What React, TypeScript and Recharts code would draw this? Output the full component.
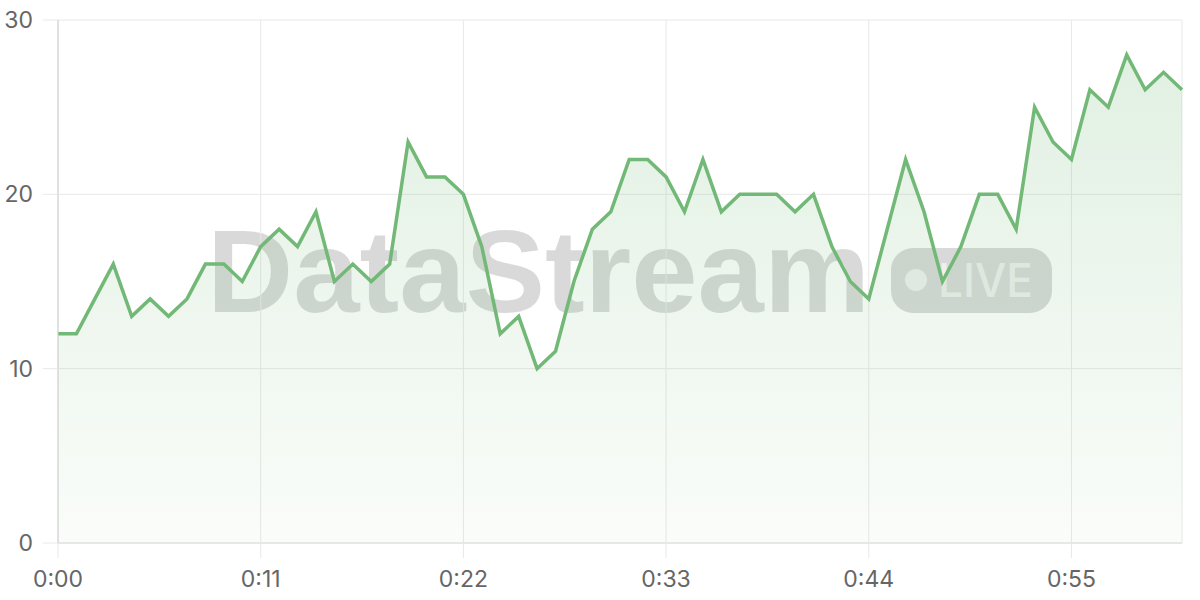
import React from 'react';
import { AreaChart, Area, XAxis, YAxis, CartesianGrid } from 'recharts';

// one reading per second
const seconds = Array.from({ length: 62 }, (_, i) => i);
const values = [
  12, 12, 14, 16, 13, 14, 13, 14, 16, 16,
  15, 17, 18, 17, 19, 15, 16, 15, 16, 23,
  21, 21, 20, 17, 12, 13, 10, 11, 15, 18,
  19, 22, 22, 21, 19, 22, 19, 20, 20, 20,
  19, 20, 17, 15, 14, 18, 22, 19, 15, 17,
  20, 20, 18, 25, 23, 22, 26, 25, 28, 26,
  27, 26,
];
const xTicks = [0, 11, 22, 33, 44, 55];
const yTicks = [0, 10, 20, 30];

const data = seconds.map((s, i) => ({ t: s, v: values[i] }));

const fmtTime = (s: number) => `${Math.floor(s / 60)}:${String(s % 60).padStart(2, '0')}`;

const GREEN = '#72b876';
const tickStyle = { fill: '#666', fontSize: 23, fontFamily: 'Inter, sans-serif' };

const Watermark = () => (
  <svg width={1200} height={600} style={{ position: 'absolute', left: 0, top: 0 }}>
    <text
      x={207}
      y={312}
      fontSize={117}
      fontWeight={700}
      fontFamily="'Liberation Sans', Arial, sans-serif"
      fill="#000"
      fillOpacity={0.15}
      textLength={663}
      lengthAdjust="spacingAndGlyphs"
    >
      DataStream
    </text>
    <rect x={891} y={248} width={161} height={65} rx={22} fill="#000" fillOpacity={0.15} />
    <circle cx={916} cy={280} r={11} fill="#fff" fillOpacity={0.6} />
    <text
      x={938}
      y={297}
      fontSize={46}
      fontWeight={500}
      fontFamily="Inter, sans-serif"
      fill="#fff"
      fillOpacity={0.6}
      textLength={95}
      lengthAdjust="spacingAndGlyphs"
    >
      LIVE
    </text>
  </svg>
);

export default function App() {
  return (
    <div style={{ position: 'absolute', left: 0, top: 0, width: 1200, height: 600, background: '#fff' }}>
      <Watermark />
      <div style={{ position: 'absolute', left: 0, top: 0 }}>
        <AreaChart width={1200} height={600} data={data} margin={{ top: 20, right: 18, bottom: 0, left: 0 }}>
          <defs>
            <linearGradient id="fillGrad" x1="0" y1="0" x2="0" y2="1">
              <stop offset="0%" stopColor={GREEN} stopOpacity={0.35} />
              <stop offset="100%" stopColor={GREEN} stopOpacity={0.06} />
            </linearGradient>
          </defs>
          <CartesianGrid stroke="#e8e8e8" />
          <XAxis
            dataKey="t"
            type="number"
            domain={[0, 61]}
            ticks={xTicks}
            tickFormatter={fmtTime}
            height={57}
            tickSize={15}
            tickMargin={13}
            axisLine={{ stroke: '#dcdcdc' }}
            tickLine={{ stroke: '#e8e8e8' }}
            tick={tickStyle}
          />
          <YAxis
            domain={[0, 30]}
            ticks={yTicks}
            width={58}
            tickSize={15}
            tickMargin={10}
            axisLine={{ stroke: '#cfcfcf' }}
            tickLine={{ stroke: '#e8e8e8' }}
            tick={tickStyle}
          />
          <Area
            type="linear"
            dataKey="v"
            stroke={GREEN}
            strokeWidth={3.5}
            fill="url(#fillGrad)"
            dot={false}
            activeDot={false}
            isAnimationActive={false}
          />
        </AreaChart>
      </div>
    </div>
  );
}
